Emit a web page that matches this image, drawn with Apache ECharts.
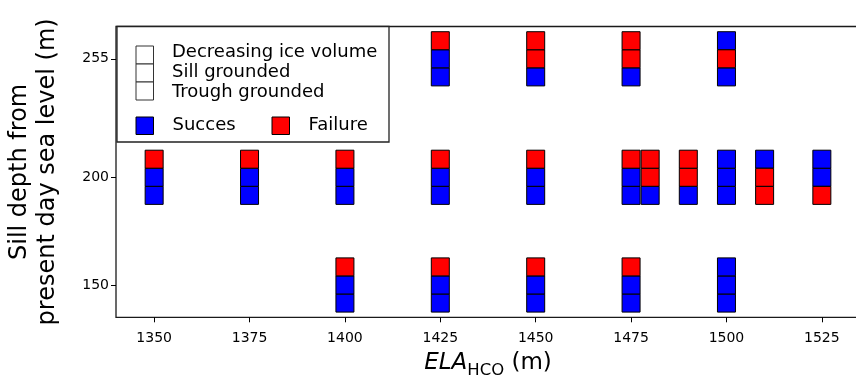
<!DOCTYPE html>
<html>
<head>
<meta charset="utf-8">
<script src="https://cdn.jsdelivr.net/npm/echarts@6/dist/echarts.min.js"></script>
<style>
  html, body { margin: 0; padding: 0; background: #fff; }
  #chart { width: 856px; height: 382px; }
</style>
</head>
<body>
<div id="chart"></div>
<script>
// one entry per stacked column: ELA (m), sill depth (m), and outcome of each test
// "S" = success, "F" = failure
const elaValues = [1350, 1375, 1400, 1425, 1450, 1475, 1480, 1490, 1500, 1510, 1525,
                   1425, 1450, 1475, 1500,
                   1400, 1425, 1450, 1475, 1500];
const sillDepths = [200, 200, 200, 200, 200, 200, 200, 200, 200, 200, 200,
                    255, 255, 255, 255,
                    150, 150, 150, 150, 150];
const troughGrounded = ["S", "S", "S", "S", "S", "S", "S", "S", "S", "F", "F",
                        "S", "S", "S", "S",
                        "S", "S", "S", "S", "S"];
const sillGrounded = ["S", "S", "S", "S", "S", "S", "F", "F", "S", "F", "S",
                      "S", "F", "F", "F",
                      "S", "S", "S", "S", "S"];
const decreasingIce = ["F", "F", "F", "F", "F", "F", "F", "F", "S", "S", "S",
                       "F", "F", "F", "S",
                       "F", "F", "F", "F", "S"];

const xTicks = [1350, 1375, 1400, 1425, 1450, 1475, 1500, 1525];
const yTicks = [150, 200, 255];
const testLabels = ["Decreasing ice volume", "Sill grounded", "Trough grounded"];

const BLUE = "#0000ff";
const RED = "#ff0000";
const STEP = 8.4; // vertical pitch of the stacked squares, in metres of depth
const FONT = "DejaVu Sans";

const succes = [];
const failure = [];
elaValues.forEach((x, i) => {
  const rows = [troughGrounded[i], sillGrounded[i], decreasingIce[i]];
  rows.forEach((r, k) => {
    const pt = [x, sillDepths[i] + (k - 1) * STEP];
    (r === "S" ? succes : failure).push(pt);
  });
});

const chart = echarts.init(document.getElementById("chart"));

const legendX = 136;
const legendGraphics = [
  {
    type: "rect",
    shape: { x: 117, y: 26.5, width: 272, height: 115.5 },
    style: { fill: "#fff", stroke: "#222", lineWidth: 1.3 },
  },
];
testLabels.forEach((t, k) => {
  legendGraphics.push({
    type: "rect",
    shape: { x: legendX, y: 46 + k * 18, width: 17.5, height: 18 },
    style: { fill: "#fff", stroke: "#333", lineWidth: 1 },
  });
  legendGraphics.push({
    type: "text",
    x: 172,
    y: 52 + k * 20,
    style: { text: t, fill: "#000", font: "18px " + FONT, verticalAlign: "middle" },
  });
});
[["Succes", BLUE, legendX], ["Failure", RED, 272]].forEach(([name, c, x]) => {
  legendGraphics.push({
    type: "rect",
    shape: { x: x, y: 117, width: 17.5, height: 17.5 },
    style: { fill: c, stroke: "#000", lineWidth: 1 },
  });
  legendGraphics.push({
    type: "text",
    x: x + 36.5,
    y: 125.5,
    style: { text: name, fill: "#000", font: "18px " + FONT, verticalAlign: "middle" },
  });
});

const squareStyle = (color) => ({
  type: "scatter",
  symbol: "rect",
  symbolSize: [18, 18],
  itemStyle: { color, borderColor: "#000", borderWidth: 1, opacity: 1 },
  emphasis: { disabled: true },
  silent: true,
});

chart.setOption({
  animation: false,
  grid: {
    left: 116,
    top: 26.5,
    width: 744,
    height: 290.8,
    outerBoundsMode: "none",
    show: true,
    borderColor: "#1a1a1a",
    borderWidth: 1.3,
    backgroundColor: "transparent",
  },
  xAxis: {
    type: "value",
    min: 1340,
    max: 1535,
    axisLine: { show: false },
    splitLine: { show: false },
    axisTick: { show: true, length: 5, lineStyle: { color: "#000", width: 1 }, customValues: xTicks },
    axisLabel: {
      color: "#000", fontFamily: FONT, fontSize: 14, margin: 14,
      customValues: xTicks, formatter: (v) => String(v),
    },
    name: "{i|ELA}{s|HCO}{n| (m)}",
    nameLocation: "middle",
    nameGap: 29,
    nameTextStyle: {
      rich: {
        i: { fontFamily: FONT, fontStyle: "italic", fontSize: 23, color: "#000", lineHeight: 28, verticalAlign: "bottom" },
        s: { fontFamily: FONT, fontSize: 16.5, color: "#000", lineHeight: 28, verticalAlign: "bottom", padding: [0, 0, -5, 0] },
        n: { fontFamily: FONT, fontSize: 23, color: "#000", lineHeight: 28, verticalAlign: "bottom" },
      },
    },
  },
  yAxis: {
    type: "value",
    min: 135,
    max: 270,
    axisLine: { show: false },
    splitLine: { show: false },
    axisTick: { show: true, length: 5, lineStyle: { color: "#000", width: 1 }, customValues: yTicks },
    axisLabel: { color: "#000", fontFamily: FONT, fontSize: 14, margin: 7, customValues: yTicks },
    name: "Sill depth from\npresent day sea level (m)",
    nameLocation: "middle",
    nameGap: 54,
    nameTextStyle: { fontFamily: FONT, fontSize: 24, color: "#000", lineHeight: 28 },
  },
  graphic: { elements: [{ type: "group", z: 100, children: legendGraphics }] },
  series: [
    Object.assign({ name: "Succes", data: succes }, squareStyle(BLUE)),
    Object.assign({ name: "Failure", data: failure }, squareStyle(RED)),
  ],
});
</script>
</body>
</html>
